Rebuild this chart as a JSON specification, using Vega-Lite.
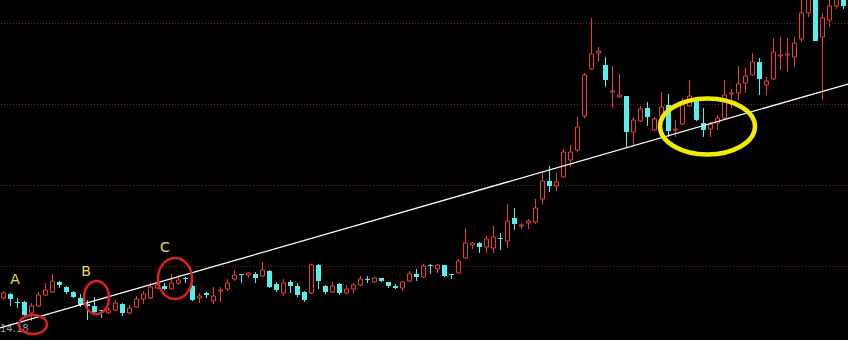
{
  "$schema": "https://vega.github.io/schema/vega-lite/v6.json",
  "width": 848,
  "height": 340,
  "padding": 0,
  "autosize": {"type": "none"},
  "background": "#000000",
  "config": {"view": {"stroke": null}, "scale": {"continuousPadding": 0}},
  "datasets": {
    "candles": [
      {"i":0,"o":42,"h":49,"l":40,"c":47},
      {"i":1,"o":46,"h":47,"l":34,"c":41},
      {"i":2,"o":38,"h":42,"l":32,"c":37},
      {"i":3,"o":38,"h":39,"l":22,"c":25},
      {"i":4,"o":27,"h":37,"l":19,"c":34},
      {"i":5,"o":34,"h":48,"l":33,"c":45},
      {"i":6,"o":45,"h":57,"l":44,"c":50},
      {"i":7,"o":48,"h":66,"l":47,"c":59},
      {"i":8,"o":58,"h":59,"l":52,"c":55},
      {"i":9,"o":53,"h":54,"l":46,"c":48},
      {"i":10,"o":48,"h":49,"l":42,"c":43},
      {"i":11,"o":42,"h":46,"l":33,"c":35},
      {"i":12,"o":36,"h":40,"l":20,"c":34},
      {"i":13,"o":34,"h":43,"l":27,"c":28},
      {"i":14,"o":30,"h":30,"l":22,"c":29},
      {"i":15,"o":27,"h":33,"l":26,"c":30},
      {"i":16,"o":30,"h":40,"l":29,"c":37},
      {"i":17,"o":36,"h":37,"l":24,"c":27},
      {"i":18,"o":27,"h":35,"l":26,"c":32},
      {"i":19,"o":33,"h":44,"l":32,"c":41},
      {"i":20,"o":41,"h":49,"l":36,"c":46},
      {"i":21,"o":42,"h":57,"l":41,"c":53},
      {"i":22,"o":52,"h":57,"l":51,"c":55},
      {"i":23,"o":54,"h":57,"l":50,"c":51},
      {"i":24,"o":51,"h":66,"l":50,"c":57},
      {"i":25,"o":57,"h":65,"l":55,"c":60},
      {"i":26,"o":62,"h":63,"l":57,"c":61},
      {"i":27,"o":54,"h":55,"l":39,"c":40},
      {"i":28,"o":42,"h":47,"l":37,"c":44},
      {"i":29,"o":47,"h":48,"l":42,"c":45},
      {"i":30,"o":39,"h":53,"l":36,"c":44},
      {"i":31,"o":49,"h":53,"l":38,"c":50},
      {"i":32,"o":51,"h":61,"l":49,"c":57},
      {"i":33,"o":61,"h":70,"l":59,"c":65},
      {"i":34,"o":66,"h":66,"l":57,"c":65},
      {"i":35,"o":65,"h":68,"l":62,"c":67},
      {"i":36,"o":66,"h":68,"l":57,"c":62},
      {"i":37,"o":64,"h":78,"l":63,"c":70},
      {"i":38,"o":69,"h":70,"l":52,"c":53},
      {"i":39,"o":56,"h":58,"l":48,"c":50},
      {"i":40,"o":47,"h":61,"l":44,"c":57},
      {"i":41,"o":58,"h":60,"l":47,"c":54},
      {"i":42,"o":54,"h":57,"l":43,"c":45},
      {"i":43,"o":48,"h":49,"l":38,"c":40},
      {"i":44,"o":47,"h":76,"l":46,"c":75},
      {"i":45,"o":75,"h":76,"l":51,"c":59},
      {"i":46,"o":54,"h":55,"l":46,"c":48},
      {"i":47,"o":48,"h":58,"l":47,"c":54},
      {"i":48,"o":56,"h":57,"l":45,"c":47},
      {"i":49,"o":47,"h":55,"l":46,"c":51},
      {"i":50,"o":51,"h":57,"l":47,"c":55},
      {"i":51,"o":55,"h":64,"l":54,"c":61},
      {"i":52,"o":61,"h":64,"l":57,"c":60},
      {"i":53,"o":58,"h":63,"l":57,"c":62},
      {"i":54,"o":62,"h":62,"l":58,"c":59},
      {"i":55,"o":58,"h":58,"l":52,"c":54},
      {"i":56,"o":54,"h":56,"l":51,"c":52},
      {"i":57,"o":52,"h":59,"l":49,"c":58},
      {"i":58,"o":59,"h":69,"l":58,"c":66},
      {"i":59,"o":66,"h":71,"l":59,"c":63},
      {"i":60,"o":63,"h":76,"l":62,"c":74},
      {"i":61,"o":75,"h":76,"l":66,"c":74},
      {"i":62,"o":71,"h":76,"l":67,"c":75},
      {"i":63,"o":75,"h":75,"l":63,"c":64},
      {"i":64,"o":66,"h":66,"l":61,"c":65},
      {"i":65,"o":67,"h":81,"l":66,"c":79},
      {"i":66,"o":82,"h":112,"l":81,"c":97},
      {"i":67,"o":95,"h":98,"l":91,"c":97},
      {"i":68,"o":97,"h":98,"l":87,"c":93},
      {"i":69,"o":93,"h":104,"l":87,"c":101},
      {"i":70,"o":92,"h":114,"l":87,"c":103},
      {"i":71,"o":102,"h":107,"l":90,"c":101},
      {"i":72,"o":99,"h":136,"l":92,"c":119},
      {"i":73,"o":122,"h":132,"l":110,"c":116},
      {"i":74,"o":114,"h":117,"l":111,"c":115},
      {"i":75,"o":117,"h":121,"l":111,"c":119},
      {"i":76,"o":118,"h":141,"l":116,"c":132},
      {"i":77,"o":141,"h":168,"l":135,"c":159},
      {"i":78,"o":159,"h":174,"l":148,"c":154},
      {"i":79,"o":154,"h":167,"l":149,"c":158},
      {"i":80,"o":163,"h":191,"l":162,"c":188},
      {"i":81,"o":180,"h":195,"l":173,"c":188},
      {"i":82,"o":190,"h":223,"l":188,"c":213},
      {"i":83,"o":224,"h":267,"l":222,"c":265},
      {"i":84,"o":271,"h":322,"l":270,"c":286},
      {"i":85,"o":287,"h":293,"l":278,"c":289},
      {"i":86,"o":275,"h":283,"l":253,"c":260},
      {"i":87,"o":248,"h":274,"l":232,"c":249},
      {"i":88,"o":243,"h":266,"l":242,"c":245},
      {"i":89,"o":244,"h":244,"l":193,"c":208},
      {"i":90,"o":208,"h":223,"l":195,"c":220},
      {"i":91,"o":219,"h":234,"l":218,"c":231},
      {"i":92,"o":232,"h":238,"l":214,"c":223},
      {"i":93,"o":210,"h":223,"l":209,"c":221},
      {"i":94,"o":224,"h":248,"l":223,"c":233},
      {"i":95,"o":235,"h":246,"l":203,"c":209},
      {"i":96,"o":210,"h":220,"l":203,"c":211},
      {"i":97,"o":216,"h":242,"l":215,"c":235},
      {"i":98,"o":234,"h":260,"l":233,"c":244},
      {"i":99,"o":239,"h":240,"l":219,"c":220},
      {"i":100,"o":217,"h":232,"l":203,"c":210},
      {"i":101,"o":211,"h":218,"l":203,"c":216},
      {"i":102,"o":217,"h":225,"l":210,"c":222},
      {"i":103,"o":222,"h":260,"l":221,"c":245},
      {"i":104,"o":246,"h":251,"l":232,"c":247},
      {"i":105,"o":247,"h":274,"l":240,"c":256},
      {"i":106,"o":257,"h":272,"l":247,"c":264},
      {"i":107,"o":265,"h":287,"l":264,"c":278},
      {"i":108,"o":278,"h":282,"l":245,"c":261},
      {"i":109,"o":255,"h":263,"l":245,"c":259},
      {"i":110,"o":261,"h":302,"l":260,"c":288},
      {"i":111,"o":284,"h":303,"l":270,"c":285},
      {"i":112,"o":285,"h":302,"l":268,"c":286},
      {"i":113,"o":283,"h":303,"l":273,"c":297},
      {"i":114,"o":301,"h":340,"l":298,"c":327},
      {"i":115,"o":327,"h":350,"l":323,"c":345},
      {"i":116,"o":345,"h":350,"l":299,"c":299},
      {"i":117,"o":303,"h":327,"l":240,"c":322},
      {"i":118,"o":320,"h":340,"l":313,"c":334},
      {"i":119,"o":334,"h":345,"l":331,"c":342},
      {"i":120,"o":340,"h":345,"l":331,"c":334}
    ]
  },
  "layer": [
    {
      "data": {"values": [{"p": 316.5}, {"p": 235.5}, {"p": 154.5}, {"p": 73.5}]},
      "mark": {"type": "rule", "color": "#8a1c1c", "strokeWidth": 1, "strokeDash": [1, 2]},
      "encoding": {
        "y": {"field": "p", "type": "quantitative", "scale": {"domain": [0, 340], "nice": false, "zero": false}, "axis": null}
      }
    },
    {
      "data": {"values": [{"i": -0.5, "p": 8, "label": "14.18"}]},
      "mark": {"type": "text", "align": "left", "baseline": "alphabetic", "dx": 0, "fontSize": 10, "font": "DejaVu Sans", "color": "#9a9a9a"},
      "encoding": {
        "x": {"field": "i", "type": "quantitative", "scale": {"domain": [-0.5, 120.643], "nice": false, "zero": false, "padding": 0}, "axis": null},
        "y": {"field": "p", "type": "quantitative", "scale": {"domain": [0, 340], "nice": false, "zero": false}, "axis": null},
        "text": {"field": "label"}
      }
    },
    {
      "data": {"name": "candles"},
      "transform": [{"filter": "datum.c >= datum.o"}],
      "mark": {"type": "rule", "color": "#e8413c", "strokeWidth": 1, "clip": true},
      "encoding": {
        "x": {"field": "i", "type": "quantitative", "scale": {"domain": [-0.5, 120.643], "nice": false, "zero": false, "padding": 0}, "axis": null},
        "y": {"field": "l", "type": "quantitative", "scale": {"domain": [0, 340], "nice": false, "zero": false}, "axis": null},
        "y2": {"field": "h"}
      }
    },
    {
      "data": {"name": "candles"},
      "transform": [{"filter": "datum.c < datum.o"}],
      "mark": {"type": "rule", "color": "#54f0f0", "strokeWidth": 1, "clip": true},
      "encoding": {
        "x": {"field": "i", "type": "quantitative", "scale": {"domain": [-0.5, 120.643], "nice": false, "zero": false, "padding": 0}, "axis": null},
        "y": {"field": "l", "type": "quantitative", "scale": {"domain": [0, 340], "nice": false, "zero": false}, "axis": null},
        "y2": {"field": "h"}
      }
    },
    {
      "data": {"name": "candles"},
      "transform": [{"filter": "datum.c >= datum.o"}],
      "mark": {"type": "bar", "size": 4, "fill": "#000000", "stroke": "#e8413c", "strokeWidth": 1, "clip": true},
      "encoding": {
        "x": {"field": "i", "type": "quantitative", "scale": {"domain": [-0.5, 120.643], "nice": false, "zero": false, "padding": 0}, "axis": null},
        "y": {"field": "o", "type": "quantitative", "scale": {"domain": [0, 340], "nice": false, "zero": false}, "axis": null},
        "y2": {"field": "c"}
      }
    },
    {
      "data": {"name": "candles"},
      "transform": [{"filter": "datum.c < datum.o"}],
      "mark": {"type": "bar", "size": 5, "fill": "#54f0f0", "clip": true},
      "encoding": {
        "x": {"field": "i", "type": "quantitative", "scale": {"domain": [-0.5, 120.643], "nice": false, "zero": false, "padding": 0}, "axis": null},
        "y": {"field": "o", "type": "quantitative", "scale": {"domain": [0, 340], "nice": false, "zero": false}, "axis": null},
        "y2": {"field": "c"}
      }
    },
    {
      "data": {"values": [{"i": -0.5, "p": 12}, {"i": 120.643, "p": 256}]},
      "mark": {"type": "line", "color": "#ffffff", "strokeWidth": 1.3},
      "encoding": {
        "x": {"field": "i", "type": "quantitative", "scale": {"domain": [-0.5, 120.643], "nice": false, "zero": false, "padding": 0}, "axis": null},
        "y": {"field": "p", "type": "quantitative", "scale": {"domain": [0, 340], "nice": false, "zero": false}, "axis": null}
      }
    },
    {
      "data": {"values": [{"i": 4.21, "p": 15.5}]},
      "mark": {"type": "point", "filled": false, "stroke": "#e02020", "strokeWidth": 2.5, "opacity": 1, "size": 784,
        "shape": "M 1 0 C 1 0.375 0.5523 0.679 0 0.679 C -0.5523 0.679 -1 0.375 -1 0 C -1 -0.375 -0.5523 -0.679 0 -0.679 C 0.5523 -0.679 1 -0.375 1 0 Z"},
      "encoding": {
        "x": {"field": "i", "type": "quantitative", "scale": {"domain": [-0.5, 120.643], "nice": false, "zero": false, "padding": 0}, "axis": null},
        "y": {"field": "p", "type": "quantitative", "scale": {"domain": [0, 340], "nice": false, "zero": false}, "axis": null}
      }
    },
    {
      "data": {"values": [{"i": 13.29, "p": 42.5}]},
      "mark": {"type": "point", "filled": false, "stroke": "#e02020", "strokeWidth": 2.5, "opacity": 1, "size": 1089,
        "shape": "M 0.758 0 C 0.758 0.5523 0.4186 1 0 1 C -0.4186 1 -0.758 0.5523 -0.758 0 C -0.758 -0.5523 -0.4186 -1 0 -1 C 0.4186 -1 0.758 -0.5523 0.758 0 Z"},
      "encoding": {
        "x": {"field": "i", "type": "quantitative", "scale": {"domain": [-0.5, 120.643], "nice": false, "zero": false, "padding": 0}, "axis": null},
        "y": {"field": "p", "type": "quantitative", "scale": {"domain": [0, 340], "nice": false, "zero": false}, "axis": null}
      }
    },
    {
      "data": {"values": [{"i": 24.5, "p": 61.5}]},
      "mark": {"type": "point", "filled": false, "stroke": "#e02020", "strokeWidth": 2.5, "opacity": 1, "size": 1681,
        "shape": "M 0.829 0 C 0.829 0.5523 0.4579 1 0 1 C -0.4579 1 -0.829 0.5523 -0.829 0 C -0.829 -0.5523 -0.4579 -1 0 -1 C 0.4579 -1 0.829 -0.5523 0.829 0 Z"},
      "encoding": {
        "x": {"field": "i", "type": "quantitative", "scale": {"domain": [-0.5, 120.643], "nice": false, "zero": false, "padding": 0}, "axis": null},
        "y": {"field": "p", "type": "quantitative", "scale": {"domain": [0, 340], "nice": false, "zero": false}, "axis": null}
      }
    },
    {
      "data": {"values": [{"i": 100.57, "p": 213.5}]},
      "mark": {"type": "point", "filled": false, "stroke": "#f2ec00", "strokeWidth": 4.5, "opacity": 1, "size": 9025,
        "shape": "M 1 0 C 1 0.3253 0.5523 0.589 0 0.589 C -0.5523 0.589 -1 0.3253 -1 0 C -1 -0.3253 -0.5523 -0.589 0 -0.589 C 0.5523 -0.589 1 -0.3253 1 0 Z"},
      "encoding": {
        "x": {"field": "i", "type": "quantitative", "scale": {"domain": [-0.5, 120.643], "nice": false, "zero": false, "padding": 0}, "axis": null},
        "y": {"field": "p", "type": "quantitative", "scale": {"domain": [0, 340], "nice": false, "zero": false}, "axis": null}
      }
    },
    {
      "data": {"values": [
        {"i": 1.64, "p": 60, "label": "A"},
        {"i": 11.79, "p": 68.5, "label": "B"},
        {"i": 23.07, "p": 92, "label": "C"}
      ]},
      "mark": {"type": "text", "align": "center", "baseline": "middle", "fontSize": 14, "font": "DejaVu Sans", "color": "#e8e040"},
      "encoding": {
        "x": {"field": "i", "type": "quantitative", "scale": {"domain": [-0.5, 120.643], "nice": false, "zero": false, "padding": 0}, "axis": null},
        "y": {"field": "p", "type": "quantitative", "scale": {"domain": [0, 340], "nice": false, "zero": false}, "axis": null},
        "text": {"field": "label"}
      }
    }
  ]
}
